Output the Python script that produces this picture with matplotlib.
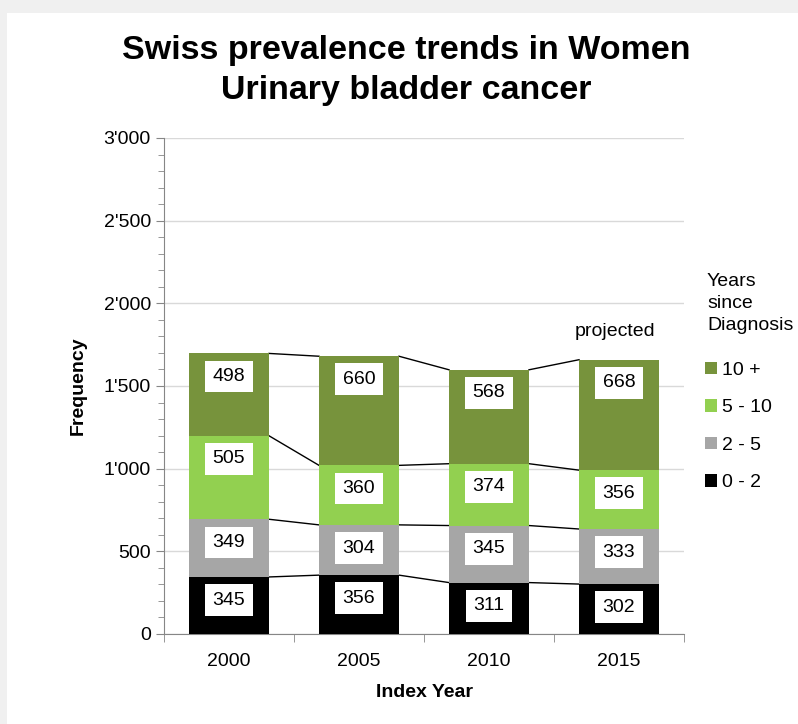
import matplotlib.pyplot as plt
import numpy as np
from matplotlib.patches import Patch, Rectangle
from matplotlib.ticker import MultipleLocator, FuncFormatter

plt.rcParams['font.family'] = ['Liberation Sans', 'DejaVu Sans']

years = ['2000', '2005', '2010', '2015']
series_names = ['0 - 2', '2 - 5', '5 - 10', '10 +']
v_0_2 = [345, 356, 311, 302]
v_2_5 = [349, 304, 345, 333]
v_5_10 = [505, 360, 374, 356]
v_10p = [498, 660, 568, 668]
colors = ['#000000', '#A6A6A6', '#92D050', '#77933C']

series = [v_0_2, v_2_5, v_5_10, v_10p]
x = np.arange(len(years))
width = 0.615

fig = plt.figure(figsize=(7.98, 7.24), dpi=100)
fig.patch.set_facecolor('#F0F0F0')
fig.patches.append(Rectangle((7 / 798, 0), 1, 1 - 13 / 724, transform=fig.transFigure,
                             facecolor='white', edgecolor='none', zorder=-10))

ax = fig.add_axes([164 / 798, 1 - 634 / 724, 520 / 798, 496 / 724])
ax.set_facecolor('none')

bottom = np.zeros(len(years))
for vals, col, name in zip(series, colors, series_names):
    vals = np.array(vals)
    ax.bar(x, vals, width, bottom=bottom, color=col, label=name, zorder=3)
    tops = bottom + vals
    # connecting lines between bars
    for i in range(len(x) - 1):
        ax.plot([x[i] + width / 2, x[i + 1] - width / 2], [tops[i], tops[i + 1]],
                color='black', lw=1, zorder=2)
    for xi, t, v in zip(x, tops, vals):
        ax.text(xi, t - 140, str(v), ha='center', va='center', fontsize=14, zorder=5,
                bbox=dict(boxstyle='square,pad=0.38', facecolor='white', edgecolor='none'))
    bottom = tops

ax.annotate('projected', (x[-1], bottom[-1]), xytext=(-3, 20), textcoords='offset points',
            ha='center', va='center', fontsize=14)

ax.set_xlim(-0.5, 3.5)
ax.set_ylim(0, 3000)
ax.yaxis.set_major_locator(MultipleLocator(500))
ax.yaxis.set_minor_locator(MultipleLocator(100))
ax.yaxis.set_major_formatter(FuncFormatter(lambda v, p: f"{int(v):,}".replace(',', "'")))
ax.set_xticks(x)
ax.set_xticklabels(years)
ax.set_xticks(np.arange(-0.5, 4, 1), minor=True)
ax.tick_params(axis='x', which='major', length=0, labelsize=14, pad=14)
ax.tick_params(axis='x', which='minor', length=6, color='#868686')
ax.tick_params(axis='y', which='major', length=6, color='#868686', labelsize=14)
ax.tick_params(axis='y', which='minor', length=4, color='#868686')
ax.grid(axis='y', color='#D9D9D9', lw=1, zorder=0)
for s in ['top', 'right']:
    ax.spines[s].set_visible(False)
for s in ['left', 'bottom']:
    ax.spines[s].set_color('#868686')

ax.set_ylabel('Frequency', fontsize=14, fontweight='bold', labelpad=12)
ax.set_xlabel('Index Year', fontsize=14, fontweight='bold', labelpad=10)

fig.text(406 / 798, 1 - 51 / 724, 'Swiss prevalence trends in Women', ha='center', va='center',
         fontsize=24.5, fontweight='bold')
fig.text(406 / 798, 1 - 91 / 724, 'Urinary bladder cancer', ha='center', va='center',
         fontsize=24.5, fontweight='bold')

# legend title drawn separately to match spacing
fig.text(707 / 798, 1 - 273 / 724, 'Years\nsince\nDiagnosis', ha='left', va='top',
         fontsize=14, linespacing=1.4)
handles = [Patch(facecolor=c, edgecolor='none') for c in colors][::-1]
leg = fig.legend(handles, series_names[::-1], loc='upper left', bbox_to_anchor=(705 / 798, 1 - 362 / 724),
                 frameon=False, fontsize=14, borderpad=0, borderaxespad=0,
                 handlelength=0.6, handleheight=0.6, handletextpad=0.3,
                 labelspacing=1.05)

fig.savefig('out.png', dpi=100, facecolor=fig.get_facecolor())
